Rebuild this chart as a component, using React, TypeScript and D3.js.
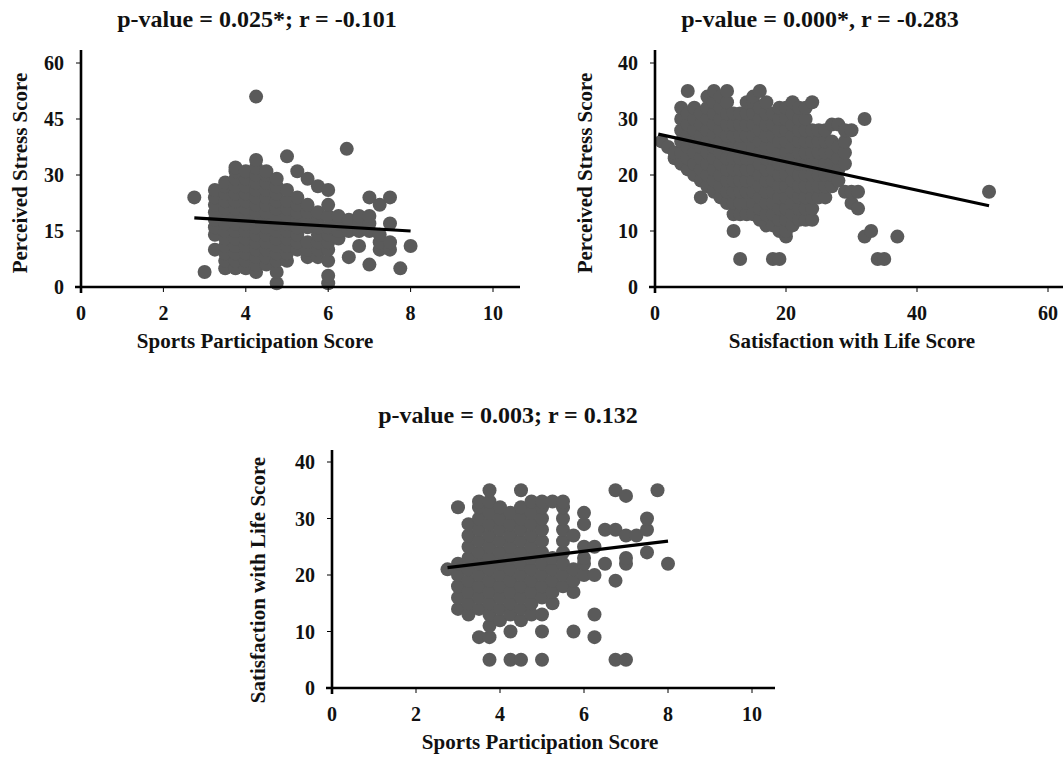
import React from "react";
import * as d3 from "d3";

// ---------- DATA ----------
// Panel 1: Sports Participation (x) vs Perceived Stress (y)
const p1Columns: [number, number[]][] = [
  [2.75, [24]],
  [3.0, [4]],
  [3.25, [10, 14, 16, 18, 20, 22, 24, 26]],
  [3.5, [5, 7, 9, 11, 13, 15, 17, 19, 21, 23, 25, 27, 28]],
  [3.75, [5, 7, 9, 11, 13, 15, 17, 19, 21, 23, 25, 27, 29, 31, 32]],
  [4.0, [5, 7, 9, 11, 13, 15, 17, 19, 21, 23, 25, 27, 29, 31]],
  [4.25, [4, 6, 8, 10, 12, 14, 16, 18, 20, 22, 24, 26, 28, 30, 32, 34, 51]],
  [4.5, [6, 8, 10, 12, 14, 16, 18, 20, 22, 24, 26, 28, 30, 31]],
  [4.75, [1, 4, 7, 9, 11, 13, 15, 17, 19, 21, 23, 25, 27, 29]],
  [5.0, [7, 9, 11, 13, 15, 17, 19, 21, 23, 26, 35]],
  [5.25, [10, 12, 14, 16, 18, 20, 22, 24, 31]],
  [5.5, [8, 10, 12, 16, 18, 20, 22, 29]],
  [5.75, [8, 10, 12, 14, 16, 18, 20, 27]],
  [6.0, [1, 3, 7, 10, 12, 14, 16, 19, 22, 26]],
  [6.25, [13, 15, 17, 19]],
  [6.45, [37]],
  [6.5, [8, 15, 17, 18]],
  [6.75, [11, 15, 17, 19]],
  [7.0, [6, 15, 17, 19, 24]],
  [7.25, [10, 12, 14, 22]],
  [7.5, [10, 12, 17, 24]],
  [7.75, [5]],
  [8.0, [11]],
];
const p1Fit: [number, number][] = [[2.75, 18.5], [8, 15]];
const p1XTicks = [0, 2, 4, 6, 8, 10];
const p1YTicks = [0, 15, 30, 45, 60];

// Panel 2: Satisfaction with Life (x) vs Perceived Stress (y)
const p2Columns: [number, number[]][] = [
  [1, [26]],
  [2, [25]],
  [3, [23, 24]],
  [4, [22, 24, 26, 28, 30, 32]],
  [5, [21, 23, 25, 27, 29, 31, 35]],
  [6, [20, 22, 24, 26, 28, 30, 32]],
  [7, [16, 19, 21, 23, 25, 27, 29, 31]],
  [8, [18, 20, 22, 24, 26, 28, 30, 32, 34]],
  [9, [17, 19, 21, 23, 25, 27, 29, 31, 33, 35]],
  [10, [16, 18, 20, 22, 24, 26, 28, 30, 32, 34]],
  [11, [15, 17, 19, 21, 23, 25, 27, 29, 31, 33, 35]],
  [12, [10, 13, 15, 17, 19, 21, 23, 25, 27, 29, 31]],
  [13, [5, 13, 15, 17, 19, 21, 23, 25, 27, 29, 31]],
  [14, [13, 15, 17, 19, 21, 23, 25, 27, 29, 31, 33]],
  [15, [13, 15, 17, 19, 21, 23, 25, 27, 29, 31, 33, 34]],
  [16, [12, 14, 16, 18, 20, 22, 24, 26, 28, 30, 32, 35]],
  [17, [11, 13, 15, 17, 19, 21, 23, 25, 27, 29, 31, 33]],
  [18, [5, 11, 13, 15, 17, 19, 21, 23, 25, 27, 29, 31]],
  [19, [5, 10, 12, 14, 16, 18, 20, 22, 24, 26, 28, 30, 32]],
  [20, [9, 10, 12, 14, 16, 18, 20, 22, 24, 26, 28, 30, 32]],
  [21, [11, 13, 15, 17, 19, 21, 23, 25, 27, 29, 31, 33]],
  [22, [12, 14, 16, 18, 20, 22, 24, 26, 28, 30, 32]],
  [23, [12, 14, 16, 18, 20, 22, 24, 26, 28, 30, 32]],
  [24, [12, 14, 16, 18, 20, 22, 24, 26, 28, 33]],
  [25, [16, 18, 20, 22, 24, 26, 28]],
  [26, [16, 18, 20, 22, 24, 26, 28]],
  [27, [18, 20, 22, 24, 26, 29]],
  [28, [19, 21, 23, 25, 29]],
  [29, [17, 22, 24, 26, 28]],
  [30, [15, 17, 28]],
  [31, [14, 17]],
  [32, [9, 30]],
  [33, [10]],
  [34, [5]],
  [35, [5]],
  [37, [9]],
  [51, [17]],
];
const p2Fit: [number, number][] = [[0.5, 27.3], [51, 14.5]];
const p2XTicks = [0, 20, 40, 60];
const p2YTicks = [0, 10, 20, 30, 40];

// Panel 3: Sports Participation (x) vs Satisfaction with Life (y)
const p3Columns: [number, number[]][] = [
  [2.75, [21]],
  [3.0, [14, 16, 18, 20, 22, 32]],
  [3.25, [13, 15, 17, 19, 21, 23, 25, 27, 29]],
  [3.5, [9, 14, 16, 18, 20, 22, 24, 26, 28, 30, 32, 33]],
  [3.75, [5, 9, 11, 13, 15, 17, 19, 21, 23, 25, 27, 29, 31, 33, 35]],
  [4.0, [12, 14, 16, 18, 20, 22, 24, 26, 28, 30, 32]],
  [4.25, [5, 10, 13, 15, 17, 19, 21, 23, 25, 27, 29, 31]],
  [4.5, [5, 12, 14, 16, 18, 20, 22, 24, 26, 28, 30, 32, 35]],
  [4.75, [13, 15, 17, 19, 21, 23, 25, 27, 29, 31, 33]],
  [5.0, [5, 10, 13, 16, 18, 20, 22, 24, 26, 28, 30, 32, 33]],
  [5.25, [15, 17, 19, 21, 23, 33]],
  [5.5, [18, 20, 22, 24, 26, 28, 30, 32, 33]],
  [5.75, [10, 17, 19, 21, 27]],
  [6.0, [20, 22, 23, 25, 29, 31]],
  [6.25, [9, 13, 20, 25]],
  [6.5, [22, 28]],
  [6.75, [5, 19, 28, 35]],
  [7.0, [5, 22, 23, 27, 34]],
  [7.25, [27]],
  [7.5, [24, 28, 30]],
  [7.75, [35]],
  [8.0, [22]],
];
const p3Fit: [number, number][] = [[2.75, 21.3], [8, 26]];
const p3XTicks = [0, 2, 4, 6, 8, 10];
const p3YTicks = [0, 10, 20, 30, 40];

const titles = [
  "p-value = 0.025*; r = -0.101",
  "p-value = 0.000*, r = -0.283",
  "p-value = 0.003; r = 0.132",
];
const xLabels = [
  "Sports Participation Score",
  "Satisfaction with Life Score",
  "Sports Participation Score",
];
const yLabels = [
  "Perceived Stress Score",
  "Perceived Stress Score",
  "Satisfaction with Life Score",
];

// ---------- LAYOUT ----------
const FONT = "'Liberation Serif', 'Times New Roman', serif";
const DOT = "#5a5a5a";

type PanelProps = {
  columns: [number, number[]][];
  fit: [number, number][];
  xTicks: number[];
  yTicks: number[];
  xDomain: [number, number];
  yDomain: [number, number];
  xRange: [number, number];
  yRange: [number, number];
  xAxisEnd: number;
  yAxisTop: number;
  title: string;
  titleX: number;
  titleY: number;
  xLabel: string;
  xLabelX: number;
  yLabel: string;
  yLabelX: number;
  yLabelY: number;
};

function Panel(p: PanelProps) {
  const x = d3.scaleLinear().domain(p.xDomain).range(p.xRange);
  const y = d3.scaleLinear().domain(p.yDomain).range(p.yRange);
  const x0 = x(0);
  const y0 = y(0);
  const pts: { cx: number; cy: number }[] = [];
  p.columns.forEach(([xv, ys]) => ys.forEach((yv) => pts.push({ cx: x(xv), cy: y(yv) })));
  const line = d3
    .line<[number, number]>()
    .x((d) => x(d[0]))
    .y((d) => y(d[1]));
  return (
    <g>
      <text
        x={p.titleX}
        y={p.titleY}
        textAnchor="middle"
        fontFamily={FONT}
        fontWeight="bold"
        fontSize={24}
        fill="#111"
      >
        {p.title}
      </text>
      {pts.map((d, i) => (
        <circle key={i} cx={d.cx} cy={d.cy} r={7} fill={DOT} />
      ))}
      <path d={line(p.fit) || ""} stroke="#000" strokeWidth={3.2} fill="none" />
      {/* axes */}
      <line x1={x0} x2={x0} y1={p.yAxisTop} y2={y0 + 6} stroke="#000" strokeWidth={2.6} />
      <line x1={x0 - 6} x2={p.xAxisEnd} y1={y0} y2={y0} stroke="#000" strokeWidth={2.6} />
      {p.yTicks.map((t) => (
        <g key={"y" + t}>
          <line x1={x0 - 5} x2={x0} y1={y(t)} y2={y(t)} stroke="#000" strokeWidth={1} />
          <text
            x={x0 - 17}
            y={y(t)}
            dy="0.35em"
            textAnchor="end"
            fontFamily={FONT}
            fontWeight="bold"
            fontSize={20}
            fill="#111"
          >
            {t}
          </text>
        </g>
      ))}
      {p.xTicks.map((t) => (
        <g key={"x" + t}>
          <line x1={x(t)} x2={x(t)} y1={y0} y2={y0 + 5} stroke="#000" strokeWidth={1} />
          <text
            x={x(t)}
            y={y0 + 33}
            textAnchor="middle"
            fontFamily={FONT}
            fontWeight="bold"
            fontSize={20}
            fill="#111"
          >
            {t}
          </text>
        </g>
      ))}
      <text
        x={p.xLabelX}
        y={y0 + 61}
        textAnchor="middle"
        fontFamily={FONT}
        fontWeight="bold"
        fontSize={21}
        fill="#111"
      >
        {p.xLabel}
      </text>
      <text
        transform={`translate(${p.yLabelX},${p.yLabelY}) rotate(-90)`}
        textAnchor="middle"
        fontFamily={FONT}
        fontWeight="bold"
        fontSize={21}
        fill="#111"
      >
        {p.yLabel}
      </text>
    </g>
  );
}

export default function App() {
  return (
    <svg
      width={1063}
      height={761}
      style={{ position: "absolute", left: 0, top: 0, background: "#fff" }}
    >
      <rect width={1063} height={761} fill="#fff" />
      <Panel
        columns={p1Columns}
        fit={p1Fit}
        xTicks={p1XTicks}
        yTicks={p1YTicks}
        xDomain={[0, 10]}
        yDomain={[0, 60]}
        xRange={[81, 493]}
        yRange={[287, 63]}
        xAxisEnd={520}
        yAxisTop={50}
        title={titles[0]}
        titleX={257}
        titleY={27}
        xLabel={xLabels[0]}
        xLabelX={255}
        yLabel={yLabels[0]}
        yLabelX={27}
        yLabelY={173}
      />
      <Panel
        columns={p2Columns}
        fit={p2Fit}
        xTicks={p2XTicks}
        yTicks={p2YTicks}
        xDomain={[0, 60]}
        yDomain={[0, 40]}
        xRange={[655, 1048]}
        yRange={[287, 63]}
        xAxisEnd={1063}
        yAxisTop={50}
        title={titles[1]}
        titleX={820}
        titleY={27}
        xLabel={xLabels[1]}
        xLabelX={852}
        yLabel={yLabels[1]}
        yLabelX={592}
        yLabelY={173}
      />
      <Panel
        columns={p3Columns}
        fit={p3Fit}
        xTicks={p3XTicks}
        yTicks={p3YTicks}
        xDomain={[0, 10]}
        yDomain={[0, 40]}
        xRange={[332, 752]}
        yRange={[688, 462]}
        xAxisEnd={775}
        yAxisTop={450}
        title={titles[2]}
        titleX={508}
        titleY={423}
        xLabel={xLabels[2]}
        xLabelX={540}
        yLabel={yLabels[2]}
        yLabelX={265}
        yLabelY={580}
      />
    </svg>
  );
}
